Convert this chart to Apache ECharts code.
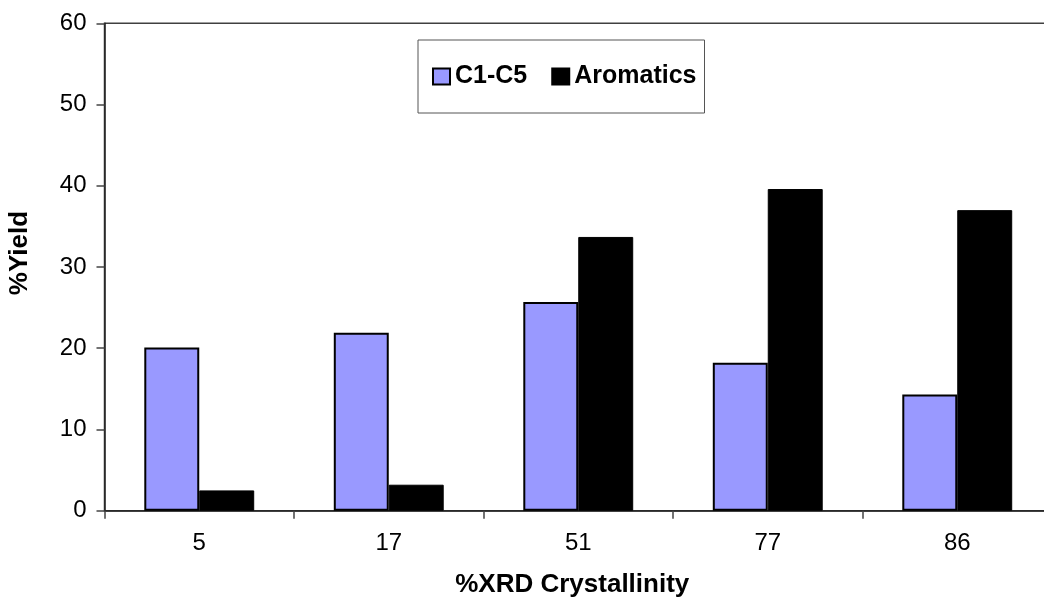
<!DOCTYPE html>
<html>
<head>
<meta charset="utf-8">
<title>%Yield vs %XRD Crystallinity</title>
<script src="https://cdn.jsdelivr.net/npm/echarts@6/dist/echarts.min.js"></script>
<style>
  html, body { margin: 0; padding: 0; background: #ffffff; overflow: hidden; width: 1044px; height: 600px; }
  /* the plot area runs a little past the right edge of the page */
  #chart { width: 1056px; height: 600px; }
</style>
</head>
<body>
<div id="chart"></div>
<script>
// Crystallinity levels (x categories)
const crystallinity = ['5', '17', '51', '77', '86'];
// Product yields, %
const lightGasYield = [20.1, 21.9, 25.7, 18.2, 14.3];   // C1-C5
const aromaticsYield = [2.5, 3.2, 33.7, 39.6, 37.0];    // Aromatics
const seriesNames = ['C1-C5', 'Aromatics'];
const yTicks = { min: 0, max: 60, interval: 10 };

const FONT = '"Liberation Sans", Arial, Helvetica, sans-serif';
const chart = echarts.init(document.getElementById('chart'), null, { renderer: 'canvas' });

chart.setOption({
  animation: false,
  backgroundColor: '#ffffff',
  textStyle: { fontFamily: FONT, color: '#000' },
  grid: {
    left: 104.5, right: 4, top: 23.3, bottom: 89.3,
    outerBoundsMode: 'none',
    show: true, borderColor: '#404040', borderWidth: 1.5,
    backgroundColor: 'transparent', containLabel: false
  },
  legend: {
    data: seriesNames,
    left: 418, top: 40,
    orient: 'horizontal',
    icon: 'rect',
    itemWidth: 17, itemHeight: 16,
    itemGap: 24,
    padding: [24, 8, 24, 14],
    borderColor: '#555', borderWidth: 1,
    backgroundColor: '#fff',
    textStyle: { fontFamily: FONT, fontSize: 25, fontWeight: 'bold', color: '#000' }
  },
  xAxis: {
    type: 'category',
    data: crystallinity,
    name: '%XRD Crystallinity',
    nameLocation: 'middle',
    nameGap: 61,
    nameTextStyle: { fontFamily: FONT, fontSize: 26, fontWeight: 'bold', color: '#000', padding: [0, 12, 0, 0] },
    axisLine: { show: true, lineStyle: { color: '#222', width: 1.5 } },
    axisTick: { show: true, alignWithLabel: false, length: 8, lineStyle: { color: '#444', width: 1.5 } },
    axisLabel: { fontFamily: FONT, fontSize: 24, color: '#000', margin: 21 },
    splitLine: { show: false }
  },
  yAxis: {
    type: 'value',
    min: yTicks.min, max: yTicks.max, interval: yTicks.interval,
    name: '%Yield',
    nameLocation: 'middle',
    nameGap: 72,
    nameRotate: 90,
    nameTextStyle: { fontFamily: FONT, fontSize: 26, fontWeight: 'bold', color: '#000', padding: [0, 0, 0, 28] },
    axisLine: { show: true, lineStyle: { color: '#222', width: 1.5 } },
    axisTick: { show: true, length: 8, lineStyle: { color: '#444', width: 1.5 } },
    axisLabel: { fontFamily: FONT, fontSize: 24, color: '#000', margin: 18 },
    splitLine: { show: false }
  },
  series: [
    {
      name: seriesNames[0],
      type: 'bar',
      data: lightGasYield,
      barGap: '0%',
      barCategoryGap: '42%',
      itemStyle: { color: '#9999ff', borderColor: '#000', borderWidth: 2 }
    },
    {
      name: seriesNames[1],
      type: 'bar',
      data: aromaticsYield,
      barGap: '0%',
      barCategoryGap: '42%',
      itemStyle: { color: '#000000', borderColor: '#000', borderWidth: 1 }
    }
  ]
});
</script>
</body>
</html>
